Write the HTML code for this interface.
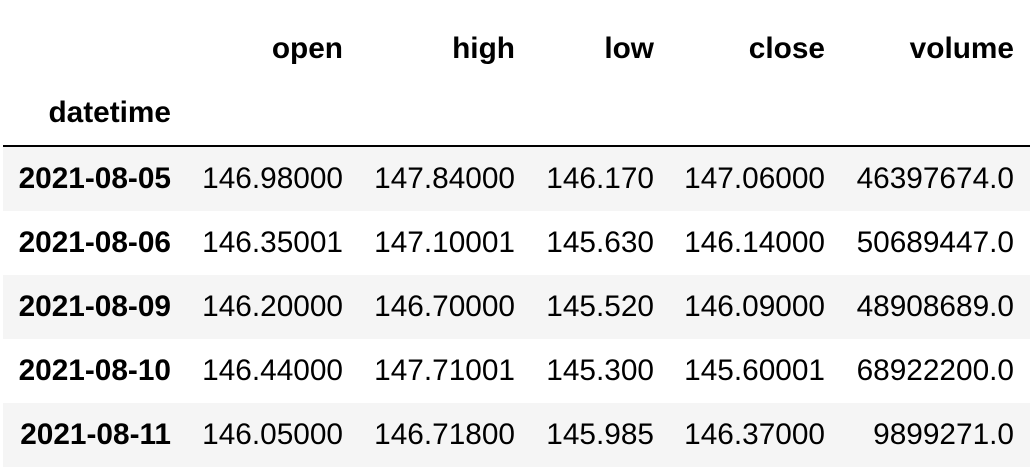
<!DOCTYPE html>
<html><head><meta charset="utf-8"><style>
body{margin:0;width:1030px;height:471px;background:#fff;overflow:hidden;font-family:"Liberation Sans",Arial,sans-serif;color:#000}
.r{position:absolute;left:3px;width:1027px;height:64px}
.g{background:#f5f5f5}
.c{position:absolute;font-size:29.8px;line-height:64px;text-align:right;white-space:nowrap}
.b{font-weight:bold}
</style></head><body>
<div id="t"></div>
<script>
const cols=["open","high","low","close","volume"];
const idx=["2021-08-05","2021-08-06","2021-08-09","2021-08-10","2021-08-11"];
const openV=["146.98000","146.35001","146.20000","146.44000","146.05000"];
const highV=["147.84000","147.10001","146.70000","147.71001","146.71800"];
const lowV=["146.170","145.630","145.520","145.300","145.985"];
const closeV=["147.06000","146.14000","146.09000","145.60001","146.37000"];
const volV=["46397674.0","50689447.0","48908689.0","68922200.0","9899271.0"];
const rights=[343,515,654,825,1014];
const t=document.getElementById('t');
function cell(txt,right,top,bold,name){
 const d=document.createElement('div');
 d.className='c'+(bold?' b':'');
 d.style.right=(1030-right)+'px';d.style.top=top+'px';
 d.textContent=txt;
 
 
 t.appendChild(d);
}
cols.forEach((c,i)=>cell(c,rights[i],17,true,'column-header-'+c));
cell('datetime',171,81,true,'index-name-datetime');
const line=document.createElement('div');
line.style.cssText='position:absolute;left:3px;width:1027px;top:145px;height:2px;background:#000';


t.appendChild(line);
const data=[openV,highV,lowV,closeV,volV];
idx.forEach((d,r)=>{
 const top=147+r*64;
 const row=document.createElement('div');
 row.className='r'+(r%2===0?' g':'');
 row.style.top=top+'px';
 
 
 t.appendChild(row);
 cell(d,171,top,true,'row-index-'+d);
 data.forEach((arr,i)=>cell(arr[r],rights[i],top,false,'cell-'+cols[i]+'-'+d));
});
</script>
</body></html>
